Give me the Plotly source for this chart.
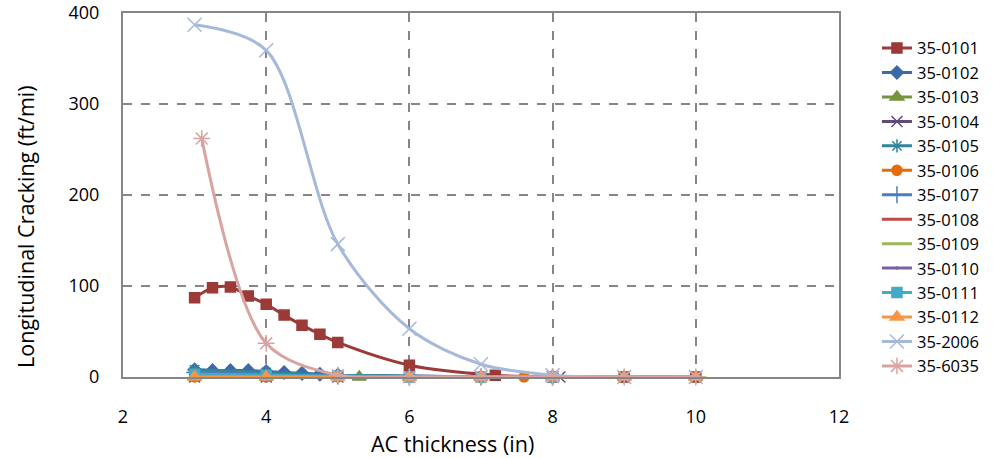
import plotly.graph_objects as go

# ---- data ----
names = ["35-0101", "35-0102", "35-0103", "35-0104", "35-0105", "35-0106", "35-0107",
         "35-0108", "35-0109", "35-0110", "35-0111", "35-0112", "35-2006", "35-6035"]

x_0101 = [3, 3.25, 3.5, 3.75, 4, 4.25, 4.5, 4.75, 5, 6, 7.2, 8, 9, 10]
y_0101 = [87, 98, 99, 89, 80, 68, 57, 47, 38, 13, 2, 0, 0, 0]
x_0102 = [3, 3.25, 3.5, 3.75, 4, 4.25, 4.5, 4.75, 5, 6, 7, 8]
y_0102 = [8, 7, 7, 7, 6, 5, 4, 3, 2, 1, 0, 0]
x_0103 = [3, 4, 5.3, 6, 7, 8, 9, 10]
y_0103 = [0, 0, 0, 0, 0, 0, 0, 0]
x_0104 = [3, 4, 5, 6, 7, 8.1]
y_0104 = [0, 0, 0, 0, 0, 0]
x_0105 = [3, 4, 5, 6, 7, 8, 9, 10]
y_0105 = [8, 5, 2, 1, 0, 0, 0, 0]
x_0106 = [3, 4, 5, 6, 7, 7.6, 8]
y_0106 = [0, 0, 0, 0, 0, 0, 0]
x_0107 = [3, 4, 5, 6, 7, 8]
y_0107 = [5, 3, 1, 0, 0, 0]
x_0108 = [3, 4, 5, 6, 7, 8, 9, 10]
y_0108 = [0, 0, 0, 0, 0, 0, 0, 0]
x_0109 = [3, 4, 5, 6, 7, 8, 9, 10.08]
y_0109 = [0, 0, 0, 0, 0, 0, 0, 0]
x_0110 = [3, 4, 5, 6, 7, 8, 9, 10]
y_0110 = [0, 0, 0, 0, 0, 0, 0, 0]
x_0111 = [3, 4, 5, 6, 7, 8]
y_0111 = [3, 2, 1, 0, 0, 0]
x_0112 = [3, 4, 5, 6, 7, 8, 9, 10]
y_0112 = [0, 0, 0, 0, 0, 0, 0, 0]
x_2006 = [3, 4, 5, 6, 7, 8, 9, 10]
y_2006 = [387, 359, 146, 53, 14, 2, 0, 0]
x_6035 = [3.1, 4, 5, 6, 7, 8, 9, 10]
y_6035 = [262, 37, 2, 0, 0, 0, 0, 0]

x_ticks = [2, 4, 6, 8, 10, 12]
y_ticks = [0, 100, 200, 300, 400]
x_title = "AC thickness (in)"
y_title = "Longitudinal Cracking (ft/mi)"

xs = [x_0101, x_0102, x_0103, x_0104, x_0105, x_0106, x_0107,
      x_0108, x_0109, x_0110, x_0111, x_0112, x_2006, x_6035]
ys = [y_0101, y_0102, y_0103, y_0104, y_0105, y_0106, y_0107,
      y_0108, y_0109, y_0110, y_0111, y_0112, y_2006, y_6035]

colors = ["#9B3A37", "#3B6BA7", "#77933C", "#604A7B", "#31859C", "#E46C0A", "#4A7EBB",
          "#BE4B48", "#98B954", "#7D60A0", "#46AAC5", "#F79646", "#A6B9DB", "#D9A3A1"]
symbols = ["square", "diamond", "triangle-up", "x-thin-open", "asterisk-open", "circle",
           "cross-thin-open", "line-ew-open", "line-ew-open", "circle", "square",
           "triangle-up", "x-thin-open", "asterisk-open"]
sizes = [10, 10, 12, 11, 11, 10, 12, 7, 7, 0, 10, 12, 14, 14]

FONT = "Open Sans, Liberation Sans, Arial, sans-serif"

fig = go.Figure()
for n, x, y, c, s, sz in zip(names, xs, ys, colors, symbols, sizes):
    fig.add_trace(go.Scatter(
        x=x, y=y, name=n, mode="lines+markers",
        line=dict(color=c, width=3, shape="spline", smoothing=0.9),
        marker=dict(symbol=s, size=sz, color=c, line=dict(color=c, width=1.5)),
        cliponaxis=False,
    ))

fig.update_layout(
    width=993, height=458,
    margin=dict(l=123, r=154, t=13, b=81, autoexpand=False),
    paper_bgcolor="white", plot_bgcolor="white",
    font=dict(family=FONT, size=17, color="black"),
    showlegend=True,
    legend=dict(x=1.053, y=0.951, xanchor="left", yanchor="top",
                font=dict(size=16.5), bgcolor="rgba(0,0,0,0)",
                tracegroupgap=0, itemwidth=30, maxheight=450),
    xaxis=dict(range=[2, 12], tickvals=x_ticks, automargin=False,
               showgrid=True, gridcolor="#868686", griddash="dash", gridwidth=1.5,
               showline=True, linecolor="#868686", linewidth=2, mirror=True,
               ticks="", zeroline=False, ticklabelstandoff=22,
               tickfont=dict(size=18)),
    yaxis=dict(range=[0, 400], tickvals=y_ticks, automargin=False,
               showgrid=True, gridcolor="#868686", griddash="dash", gridwidth=1.5,
               showline=True, linecolor="#868686", linewidth=2, mirror=True,
               ticks="", zeroline=False, ticklabelstandoff=18,
               tickfont=dict(size=18)),
    annotations=[
        dict(text=x_title, xref="paper", yref="paper", x=0.46, y=-0.183,
             xanchor="center", yanchor="middle", showarrow=False,
             font=dict(size=21.5)),
        dict(text=y_title, xref="paper", yref="paper", x=-0.1355, y=0.415,
             xanchor="center", yanchor="middle", showarrow=False, textangle=-90,
             font=dict(size=21.5)),
    ],
)

fig.write_html("out.html")
